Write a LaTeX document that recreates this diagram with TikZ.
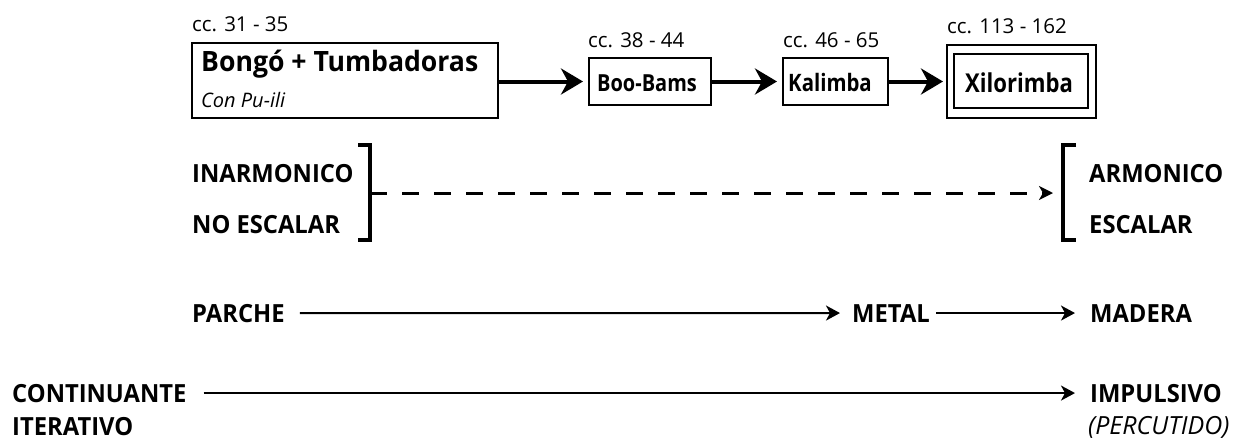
\documentclass[tikz,border=0pt]{standalone}
\usepackage{fontspec}
\setmainfont[FakeStretch=0.95]{Open Sans}
\newfontfamily\regwide[FakeStretch=1.0]{Open Sans}
\newfontfamily\bfnarrow[FakeStretch=0.85]{Open Sans}
\usetikzlibrary{arrows.meta}
\begin{document}
\begin{tikzpicture}[x=1pt,y=-1pt,
  lbl/.style={inner sep=0pt, anchor=base west, font=\fontsize{25}{29}\selectfont\bfseries},
  boxlbl/.style={inner sep=0pt, anchor=base west},
  cc/.style={inner sep=0pt, anchor=base west, font=\regwide\fontsize{20.5}{24}\selectfont},
  box/.style={draw, line width=2pt, inner sep=0pt, anchor=north west},
  bigarrow/.style={line width=4pt, -{Stealth[length=22pt,width=26pt,inset=7pt]}},
  thinarrow/.style={line width=2pt, -{Stealth[length=14pt,width=15pt,inset=4pt]}},
  dasharrow/.style={line width=3pt, dash pattern=on 17pt off 15pt, -{Stealth[length=14pt,width=14pt,inset=4pt]}},
  brk/.style={line width=4pt}
]
\useasboundingbox (0,0) rectangle (1255,445);

% boxes
\node[box, minimum width=306pt, minimum height=75pt] (b1) at (191,42) {};
\node[box, minimum width=122pt, minimum height=47pt] (b2) at (588,57) {};
\node[box, minimum width=105pt, minimum height=47pt] (b3) at (782,57) {};
\node[box, minimum width=149pt, minimum height=73pt] (b4) at (946,44) {};
\node[box, minimum width=134pt, minimum height=54pt] (b4i) at (953,53) {};

% box texts
\node[boxlbl, font=\fontsize{28}{32}\selectfont\bfseries] (t1) at (201,71) {Bongó + Tumbadoras};
\node[boxlbl, font=\regwide\fontsize{20}{23}\selectfont\itshape] (t1b) at (201,107) {Con Pu-ili};
\node[boxlbl, font=\bfnarrow\fontsize{23.5}{27}\selectfont\bfseries] (t2) at (597,91) {Boo-Bams};
\node[boxlbl, font=\bfnarrow\fontsize{24}{27}\selectfont\bfseries] (t3) at (788,91) {Kalimba};
\node[boxlbl, font=\bfnarrow\fontsize{26}{30}\selectfont\bfseries] (t4) at (965,92) {Xilorimba};

% cc labels
\node[cc] (c1) at (192,31) {cc. 31 - 35};
\node[cc] (c2) at (588,47) {cc. 38 - 44};
\node[cc] (c3) at (783,47) {cc. 46 - 65};
\node[cc] (c4) at (947,33) {cc. 113 - 162};

% arrows between boxes
\draw[bigarrow, shorten >=5pt] (b1.east |- b2.west) -- (b2.west);
\draw[bigarrow, shorten >=5pt] (b2.east) -- (b3.west);
\draw[bigarrow, shorten >=3pt] (b3.east) -- (b3.east -| b4.west);

% row 2
\node[lbl] (inarm) at (192,182) {INARMONICO};
\node[lbl] (noesc) at (192,233) {NO ESCALAR};
\node[lbl] (arm) at (1089,182) {ARMONICO};
\node[lbl] (esc) at (1089,233) {ESCALAR};
\draw[brk] (358,145) -- (370,145) -- (370,240) -- (358,240);
\draw[brk] (1076,145) -- (1063,145) -- (1063,240) -- (1076,240);
\coordinate (brL) at (370,193);
\coordinate (brR) at (1063,193);
\draw[dasharrow, shorten >=10pt] (brL) -- (brR);

% row 3
\node[lbl] (parche) at (192,322) {PARCHE};
\node[lbl] (metal) at (852,322) {METAL};
\node[lbl] (madera) at (1090,322) {MADERA};
\draw[thinarrow, shorten <=15pt, shorten >=12pt] (parche.east) -- (metal.west);
\draw[thinarrow, shorten <=6pt, shorten >=15pt] (metal.east) -- (madera.west);

% row 4
\node[lbl] (cont) at (12,402) {CONTINUANTE};
\node[lbl] (iter) at (12,435) {ITERATIVO};
\node[lbl] (imp) at (1090,402) {IMPULSIVO};
\node[inner sep=0pt, anchor=base west, font=\regwide\fontsize{25}{28}\selectfont\itshape] (perc) at (1088,434) {(PERCUTIDO)};
\draw[thinarrow, shorten <=17pt, shorten >=15pt] (cont.east) -- (imp.west);
\end{tikzpicture}
\end{document}
